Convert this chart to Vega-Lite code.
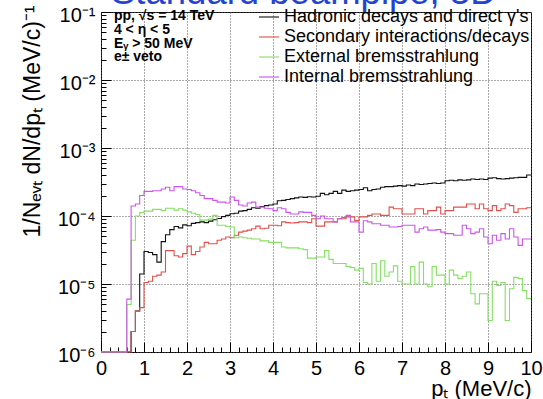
{
  "$schema": "https://vega.github.io/schema/vega-lite/v6.json",
  "width": 430,
  "height": 340,
  "autosize": "none",
  "padding": {"left": 101, "top": 12, "right": 12, "bottom": 47},
  "background": "white",
  "title": {"text": "Standard beampipe, 3D", "color": "#2343d2", "fontSize": 36.5, "font": "Liberation Sans", "fontWeight": "normal", "anchor": "start", "frame": "group", "dx": 10, "dy": 35, "baseline": "alphabetic", "offset": 0},
  "config": {"view": {"stroke": "black", "strokeWidth": 1}, "font": "Liberation Sans"},
  "datasets": {
    "hist": [
      {"x": 0.0, "h": 1e-6, "s": 1e-6, "e": 1e-6, "i": 1e-6},
      {"x": 0.1, "h": 1e-6, "s": 1e-6, "e": 1e-6, "i": 1e-6},
      {"x": 0.2, "h": 1e-6, "s": 1e-6, "e": 1e-6, "i": 1e-6},
      {"x": 0.3, "h": 1e-6, "s": 1e-6, "e": 1e-6, "i": 1e-6},
      {"x": 0.4, "h": 1e-6, "s": 1e-6, "e": 1e-6, "i": 1e-6},
      {"x": 0.5, "h": 1e-6, "s": 1e-6, "e": 1e-6, "i": 1e-6},
      {"x": 0.6, "h": 1e-6, "s": 1e-6, "e": 5e-6, "i": 6e-6},
      {"x": 0.7, "h": 2e-6, "s": 2e-6, "e": 4.4e-5, "i": 1.4e-4},
      {"x": 0.8, "h": 4e-6, "s": 4e-6, "e": 1.0e-4, "i": 1.5e-4},
      {"x": 0.9, "h": 1.4e-5, "s": 4.5e-6, "e": 1.12e-4, "i": 2.0e-4},
      {"x": 1.0, "h": 3.0e-5, "s": 1.05e-5, "e": 1.18e-4, "i": 2.3e-4},
      {"x": 1.1, "h": 2.9e-5, "s": 1.1e-5, "e": 1.18e-4, "i": 2.3e-4},
      {"x": 1.2, "h": 2.7e-5, "s": 1.3e-5, "e": 1.25e-4, "i": 2.35e-4},
      {"x": 1.3, "h": 2.1e-5, "s": 1.35e-5, "e": 1.25e-4, "i": 2.35e-4},
      {"x": 1.4, "h": 4.2e-5, "s": 1.5e-5, "e": 1.2e-4, "i": 2.5e-4},
      {"x": 1.5, "h": 5.3e-5, "s": 3.1e-5, "e": 1.3e-4, "i": 2.65e-4},
      {"x": 1.6, "h": 6.3e-5, "s": 3.1e-5, "e": 1.3e-4, "i": 2.35e-4},
      {"x": 1.7, "h": 7.0e-5, "s": 2.6e-5, "e": 1.22e-4, "i": 2.7e-4},
      {"x": 1.8, "h": 6.7e-5, "s": 2.5e-5, "e": 1.28e-4, "i": 2.7e-4},
      {"x": 1.9, "h": 7.4e-5, "s": 2.8e-5, "e": 1.22e-4, "i": 2.5e-4},
      {"x": 2.0, "h": 7.2e-5, "s": 3.6e-5, "e": 1.15e-4, "i": 2.45e-4},
      {"x": 2.1, "h": 7.8e-5, "s": 2.7e-5, "e": 1.1e-4, "i": 2.35e-4},
      {"x": 2.2, "h": 8.0e-5, "s": 3.0e-5, "e": 1.05e-4, "i": 2.2e-4},
      {"x": 2.3, "h": 8.2e-5, "s": 3.5e-5, "e": 8.7e-5, "i": 2.0e-4},
      {"x": 2.4, "h": 8.0e-5, "s": 4.1e-5, "e": 8.7e-5, "i": 1.8e-4},
      {"x": 2.5, "h": 8.4e-5, "s": 3.9e-5, "e": 9.0e-5, "i": 1.8e-4},
      {"x": 2.6, "h": 8.8e-5, "s": 3.9e-5, "e": 1.02e-4, "i": 1.7e-4},
      {"x": 2.7, "h": 9.2e-5, "s": 4.4e-5, "e": 7.3e-5, "i": 1.6e-4},
      {"x": 2.8, "h": 9.8e-5, "s": 4.6e-5, "e": 7.3e-5, "i": 1.6e-4},
      {"x": 2.9, "h": 1.02e-4, "s": 4.9e-5, "e": 7.0e-5, "i": 1.55e-4},
      {"x": 3.0, "h": 1.08e-4, "s": 4.8e-5, "e": 6.9e-5, "i": 1.9e-4},
      {"x": 3.1, "h": 1.1e-4, "s": 5.2e-5, "e": 4.8e-5, "i": 1.7e-4},
      {"x": 3.2, "h": 1.18e-4, "s": 5.8e-5, "e": 4.9e-5, "i": 1.45e-4},
      {"x": 3.3, "h": 1.2e-4, "s": 6.0e-5, "e": 4.8e-5, "i": 1.4e-4},
      {"x": 3.4, "h": 1.25e-4, "s": 6.2e-5, "e": 4.7e-5, "i": 1.55e-4},
      {"x": 3.5, "h": 1.32e-4, "s": 6.5e-5, "e": 4.6e-5, "i": 1.6e-4},
      {"x": 3.6, "h": 1.3e-4, "s": 7.1e-5, "e": 4.6e-5, "i": 1.35e-4},
      {"x": 3.7, "h": 1.38e-4, "s": 6.5e-5, "e": 4.3e-5, "i": 1.35e-4},
      {"x": 3.8, "h": 1.42e-4, "s": 6.6e-5, "e": 4.3e-5, "i": 1.3e-4},
      {"x": 3.9, "h": 1.45e-4, "s": 7.3e-5, "e": 4.1e-5, "i": 1.28e-4},
      {"x": 4.0, "h": 1.5e-4, "s": 7.3e-5, "e": 4.1e-5, "i": 1.2e-4},
      {"x": 4.1, "h": 1.68e-4, "s": 7.2e-5, "e": 4.1e-5, "i": 1.32e-4},
      {"x": 4.2, "h": 1.7e-4, "s": 8.2e-5, "e": 3.5e-5, "i": 1.28e-4},
      {"x": 4.3, "h": 1.75e-4, "s": 8.0e-5, "e": 3.4e-5, "i": 1.13e-4},
      {"x": 4.4, "h": 1.8e-4, "s": 7.9e-5, "e": 3.4e-5, "i": 1.07e-4},
      {"x": 4.5, "h": 1.85e-4, "s": 8.0e-5, "e": 3.4e-5, "i": 1.07e-4},
      {"x": 4.6, "h": 1.9e-4, "s": 8.2e-5, "e": 3.3e-5, "i": 1.15e-4},
      {"x": 4.7, "h": 1.88e-4, "s": 8.2e-5, "e": 3.2e-5, "i": 1.13e-4},
      {"x": 4.8, "h": 1.92e-4, "s": 8.0e-5, "e": 2.4e-5, "i": 1.13e-4},
      {"x": 4.9, "h": 1.9e-4, "s": 9.1e-5, "e": 2.4e-5, "i": 1.02e-4},
      {"x": 5.0, "h": 1.95e-4, "s": 7.1e-5, "e": 2.5e-5, "i": 9.1e-5},
      {"x": 5.1, "h": 2.15e-4, "s": 7.1e-5, "e": 2.5e-5, "i": 1.0e-4},
      {"x": 5.2, "h": 2.05e-4, "s": 8.2e-5, "e": 3.1e-5, "i": 9.1e-5},
      {"x": 5.3, "h": 2.15e-4, "s": 8.2e-5, "e": 2.3e-5, "i": 9.1e-5},
      {"x": 5.4, "h": 2.3e-4, "s": 8.2e-5, "e": 2.0e-5, "i": 8.2e-5},
      {"x": 5.5, "h": 2.15e-4, "s": 9.1e-5, "e": 2.0e-5, "i": 9.1e-5},
      {"x": 5.6, "h": 2.4e-4, "s": 9.1e-5, "e": 2.0e-5, "i": 9.5e-5},
      {"x": 5.7, "h": 2.3e-4, "s": 9.7e-5, "e": 1.8e-5, "i": 1.02e-4},
      {"x": 5.8, "h": 2.35e-4, "s": 9.7e-5, "e": 1.75e-5, "i": 8.2e-5},
      {"x": 5.9, "h": 2.4e-4, "s": 8.6e-5, "e": 1.6e-5, "i": 8.2e-5},
      {"x": 6.0, "h": 2.45e-4, "s": 9.7e-5, "e": 1.7e-5, "i": 5.8e-5},
      {"x": 6.1, "h": 2.6e-4, "s": 9.7e-5, "e": 1.05e-5, "i": 8.5e-5},
      {"x": 6.2, "h": 2.35e-4, "s": 1.02e-4, "e": 1.0e-5, "i": 8.2e-5},
      {"x": 6.3, "h": 2.45e-4, "s": 1.07e-4, "e": 2.0e-5, "i": 7.7e-5},
      {"x": 6.4, "h": 2.5e-4, "s": 1.07e-4, "e": 1.1e-5, "i": 7.7e-5},
      {"x": 6.5, "h": 2.65e-4, "s": 1.02e-4, "e": 2.2e-5, "i": 7.3e-5},
      {"x": 6.6, "h": 2.7e-4, "s": 1.02e-4, "e": 1.3e-5, "i": 7.3e-5},
      {"x": 6.7, "h": 2.7e-4, "s": 1.35e-4, "e": 1.5e-5, "i": 6.9e-5},
      {"x": 6.8, "h": 2.75e-4, "s": 1.28e-4, "e": 1.85e-5, "i": 6.9e-5},
      {"x": 6.9, "h": 2.8e-4, "s": 1.28e-4, "e": 1.1e-5, "i": 7.0e-5},
      {"x": 7.0, "h": 2.75e-4, "s": 1.07e-4, "e": 1.0e-5, "i": 7.3e-5},
      {"x": 7.1, "h": 2.85e-4, "s": 1.07e-4, "e": 1.0e-5, "i": 7.3e-5},
      {"x": 7.2, "h": 2.8e-4, "s": 1.07e-4, "e": 1.8e-5, "i": 7.3e-5},
      {"x": 7.3, "h": 2.95e-4, "s": 1.28e-4, "e": 1.0e-5, "i": 5.8e-5},
      {"x": 7.4, "h": 2.9e-4, "s": 1.28e-4, "e": 2.1e-5, "i": 6.5e-5},
      {"x": 7.5, "h": 2.95e-4, "s": 1.07e-4, "e": 1.0e-5, "i": 6.9e-5},
      {"x": 7.6, "h": 3.0e-4, "s": 1.2e-4, "e": 9.1e-6, "i": 6.2e-5},
      {"x": 7.7, "h": 3.05e-4, "s": 1.2e-4, "e": 1.8e-5, "i": 6.2e-5},
      {"x": 7.8, "h": 3.0e-4, "s": 1.35e-4, "e": 1.35e-5, "i": 6.3e-5},
      {"x": 7.9, "h": 3.05e-4, "s": 1.07e-4, "e": 1.35e-5, "i": 5.8e-5},
      {"x": 8.0, "h": 3.3e-4, "s": 1.2e-4, "e": 1.0e-5, "i": 5.5e-5},
      {"x": 8.1, "h": 3.35e-4, "s": 1.2e-4, "e": 1.6e-5, "i": 5.5e-5},
      {"x": 8.2, "h": 3.3e-4, "s": 1.35e-4, "e": 1.35e-5, "i": 5.2e-5},
      {"x": 8.3, "h": 3.4e-4, "s": 1.35e-4, "e": 1.2e-5, "i": 5.2e-5},
      {"x": 8.4, "h": 3.35e-4, "s": 1.35e-4, "e": 1.3e-5, "i": 7.3e-5},
      {"x": 8.5, "h": 3.4e-4, "s": 1.5e-4, "e": 1.5e-5, "i": 6.5e-5},
      {"x": 8.6, "h": 3.5e-4, "s": 1.5e-4, "e": 7.2e-6, "i": 5.5e-5},
      {"x": 8.7, "h": 3.45e-4, "s": 1.28e-4, "e": 5.1e-6, "i": 5.8e-5},
      {"x": 8.8, "h": 3.5e-4, "s": 1.5e-4, "e": 7.2e-6, "i": 6.5e-5},
      {"x": 8.9, "h": 3.45e-4, "s": 1.28e-4, "e": 7.2e-6, "i": 4.9e-5},
      {"x": 9.0, "h": 3.6e-4, "s": 1.2e-4, "e": 2.9e-6, "i": 3.9e-5},
      {"x": 9.1, "h": 3.65e-4, "s": 1.42e-4, "e": 1.1e-5, "i": 5.2e-5},
      {"x": 9.2, "h": 3.55e-4, "s": 1.2e-4, "e": 9.5e-6, "i": 4.4e-5},
      {"x": 9.3, "h": 3.5e-4, "s": 1.28e-4, "e": 1.05e-5, "i": 5.5e-5},
      {"x": 9.4, "h": 3.55e-4, "s": 1.5e-4, "e": 2.9e-6, "i": 4.6e-5},
      {"x": 9.5, "h": 3.6e-4, "s": 1.42e-4, "e": 8.5e-6, "i": 6.5e-5},
      {"x": 9.6, "h": 3.65e-4, "s": 1.13e-4, "e": 1.25e-5, "i": 4.9e-5},
      {"x": 9.7, "h": 3.7e-4, "s": 1.28e-4, "e": 1.2e-5, "i": 3.7e-5},
      {"x": 9.8, "h": 3.7e-4, "s": 1.28e-4, "e": 8.0e-6, "i": 4.6e-5},
      {"x": 9.9, "h": 4.0e-4, "s": 1.32e-4, "e": 6.1e-6, "i": 4.6e-5},
      {"x": 10.0, "h": 4.0e-4, "s": 1.32e-4, "e": 6.1e-6, "i": 4.6e-5}
    ],
    "notes": [
      {"x": 0.3, "value": 0.0865, "label": "pp,  √s = 14 TeV"},
      {"x": 0.3, "value": 0.054, "label": "4 < η < 5"},
      {"x": 0.3, "value": 0.0335, "label": "Eᵧ > 50 MeV"},
      {"x": 0.3, "value": 0.0215, "label": "e± veto"}
    ]
  },
  "resolve": {"axis": {"x": "independent", "y": "independent"}},
  "layer": [
    {
      "data": {"name": "hist"},
      "transform": [{"fold": ["h", "s", "e", "i"], "as": ["series", "value"]}],
      "mark": {"type": "line", "interpolate": "step-after", "strokeWidth": 1.1},
      "encoding": {
        "x": {"field": "x", "type": "quantitative", "scale": {"domain": [0, 10], "nice": false, "zero": false},
          "axis": {"orient": "bottom", "values": [0, 1, 2, 3, 4, 5, 6, 7, 8, 9, 10], "tickSize": -10, "tickColor": "black", "domain": false, "grid": true, "gridDash": [1, 2], "gridColor": "#555555", "labelFontSize": 20, "labelColor": "black", "labelFont": "Liberation Sans", "labelPadding": 16, "labelFlush": false, "labelOverlap": false,
            "title": "pₜ (MeV/c)", "titleFontSize": 22, "titleFontWeight": "normal", "titleColor": "black", "titleFont": "Liberation Sans", "titleAnchor": "end", "titleAlign": "right", "titleBaseline": "alphabetic", "titleX": 430, "titleY": 43}},
        "y": {"field": "value", "type": "quantitative", "scale": {"type": "log", "domain": [1e-6, 0.1], "nice": false},
          "axis": {"orient": "left", "values": [1e-6, 1e-5, 1e-4, 1e-3, 1e-2, 1e-1], "tickSize": -10, "tickColor": "black", "domain": false, "grid": true, "gridDash": [1, 2], "gridColor": "#555555", "labelFontSize": 20, "labelColor": "black", "labelFont": "Liberation Sans", "labelPadding": 16, "labelFlush": false, "labelOverlap": false, "labelOffset": 3,
            "labelExpr": "'10' + ['⁰','⁻¹','⁻²','⁻³','⁻⁴','⁻⁵','⁻⁶'][round(-log(datum.value)/LN10)]",
            "title": "1/Nₑᵥₜ dN/dpₜ (MeV/c)⁻¹", "titleFontSize": 23, "titleFontWeight": "normal", "titleColor": "black", "titleFont": "Liberation Sans", "titleAngle": 270, "titleAlign": "right", "titleBaseline": "alphabetic", "titleX": -62, "titleY": -7}},
        "color": {"field": "series", "type": "nominal", "scale": {"domain": ["h", "s", "e", "i"], "range": ["#111111", "#e0504c", "#85e065", "#cc55ee"]},
          "legend": {"orient": "none", "legendX": 157, "legendY": -6, "title": null, "symbolType": "stroke", "symbolSize": 400, "symbolStrokeWidth": 1.1, "labelFontSize": 18, "labelFont": "Liberation Sans", "labelColor": "black", "labelOffset": 4, "rowPadding": 0, "padding": 0, "labelLimit": 400,
            "labelExpr": "datum.label == 'h' ? \"Hadronic decays and direct γ's\" : datum.label == 's' ? 'Secondary interactions/decays' : datum.label == 'e' ? 'External bremsstrahlung' : 'Internal bremsstrahlung'"}}
      }
    },
    {
      "data": {"name": "notes"},
      "mark": {"type": "text", "align": "left", "baseline": "middle", "fontWeight": "bold", "fontSize": 14, "font": "Liberation Sans", "color": "black"},
      "encoding": {
        "x": {"field": "x", "type": "quantitative",
          "axis": {"orient": "bottom", "values": [0.2, 0.4, 0.6, 0.8, 1.2, 1.4, 1.6, 1.8, 2.2, 2.4, 2.6, 2.8, 3.2, 3.4, 3.6, 3.8, 4.2, 4.4, 4.6, 4.8, 5.2, 5.4, 5.6, 5.8, 6.2, 6.4, 6.6, 6.8, 7.2, 7.4, 7.6, 7.8, 8.2, 8.4, 8.6, 8.8, 9.2, 9.4, 9.6, 9.8], "tickSize": -5, "tickColor": "black", "domain": false, "grid": false, "labels": false, "title": null}},
        "y": {"field": "value", "type": "quantitative",
          "axis": {"orient": "left", "values": [2e-6, 3e-6, 4e-6, 5e-6, 6e-6, 7e-6, 8e-6, 9e-6, 2e-5, 3e-5, 4e-5, 5e-5, 6e-5, 7e-5, 8e-5, 9e-5, 2e-4, 3e-4, 4e-4, 5e-4, 6e-4, 7e-4, 8e-4, 9e-4, 2e-3, 3e-3, 4e-3, 5e-3, 6e-3, 7e-3, 8e-3, 9e-3, 2e-2, 3e-2, 4e-2, 5e-2, 6e-2, 7e-2, 8e-2, 9e-2], "tickSize": -5, "tickColor": "black", "domain": false, "grid": false, "labels": false, "title": null}},
        "text": {"field": "label"}
      }
    }
  ]
}
